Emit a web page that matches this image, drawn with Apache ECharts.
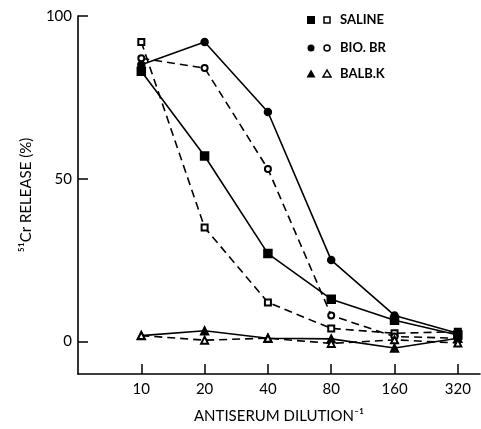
<!DOCTYPE html>
<html>
<head>
<meta charset="utf-8">
<script src="https://cdn.jsdelivr.net/npm/echarts@6/dist/echarts.min.js"></script>
<style>html,body{margin:0;padding:0;background:#fff}#c{width:481px;height:429px}</style>
</head>
<body>
<div id="c"></div>
<script>
const categories = ['10', '20', '40', '80', '160', '320'];
const yTicks = [0, 50, 100];
const salineFilled = [83, 57, 27, 13, 6.5, 2];
const salineHollow = [92, 35, 12, 4, 2.5, 3];
const bioFilled = [85, 92, 70.5, 25, 8, 2.5];
const bioHollow = [87, 84, 53, 8, 1.5, 1];
const balbFilled = [1.8, 3.3, 1, 0.8, -2, 1];
const balbHollow = [1.8, 0.4, 1, -0.6, 0.5, -0.5];
const legendNames = ['SALINE', 'BIO. BR', 'BALB.K'];

const toPts = arr => arr.map((v, i) => [i, v]);
const font = 'Lato, "DejaVu Sans", sans-serif';

function mk(name, data, symbol, size, dashed) {
  return {
    name, type: 'line', data: toPts(data),
    symbol, symbolSize: size,
    lineStyle: { color: '#000', width: 1.6, type: dashed ? [8, 5] : 'solid' },
    itemStyle: { color: '#000', borderColor: '#000', borderWidth: 1.5 },
    emphasis: { disabled: true },
    animation: false
  };
}

const chart = echarts.init(document.getElementById('c'));
const lx = 311, lx2 = 327, lt = 340, rows = [20, 48, 74];
const graphics = [];
graphics.push({ type: 'rect', shape: { x: lx - 4, y: rows[0] - 4, width: 8, height: 8 }, style: { fill: '#000' } });
graphics.push({ type: 'rect', shape: { x: lx2 - 3, y: rows[0] - 3, width: 6, height: 6 }, style: { fill: '#fff', stroke: '#000', lineWidth: 1.5 } });
graphics.push({ type: 'circle', shape: { cx: lx, cy: rows[1], r: 3.5 }, style: { fill: '#000' } });
graphics.push({ type: 'circle', shape: { cx: lx2, cy: rows[1], r: 3 }, style: { fill: '#fff', stroke: '#000', lineWidth: 1.5 } });
graphics.push({ type: 'polygon', shape: { points: [[lx, rows[2] - 4.5], [lx - 4.5, rows[2] + 3.5], [lx + 4.5, rows[2] + 3.5]] }, style: { fill: '#000' } });
graphics.push({ type: 'polygon', shape: { points: [[lx2, rows[2] - 4], [lx2 - 4, rows[2] + 3], [lx2 + 4, rows[2] + 3]] }, style: { fill: '#fff', stroke: '#000', lineWidth: 1.5 } });
legendNames.forEach((n, i) => {
  graphics.push({ type: 'text', x: lt, y: rows[i], style: { text: n, fill: '#000', font: 'bold 13px ' + font, textVerticalAlign: 'middle', textAlign: 'left' } });
});

chart.setOption({
  backgroundColor: '#fff',
  animation: false,
  grid: { left: 78, right: 1, top: 16, bottom: 51 },
  xAxis: {
    type: 'value', min: -1, max: 5.35,
    name: 'ANTISERUM DILUTION⁻¹', nameLocation: 'middle', nameGap: 35,
    nameTextStyle: { fontSize: 15, color: '#000', fontFamily: font },
    axisLine: { onZero: false, lineStyle: { color: '#000', width: 1.6 } },
    axisTick: { inside: true, length: 10, customValues: [0, 1, 2, 3, 4, 5], lineStyle: { color: '#000', width: 1.5 } },
    axisLabel: { customValues: [0, 1, 2, 3, 4, 5], formatter: v => categories[v], color: '#000', fontSize: 15, fontFamily: font, margin: 8 },
    splitLine: { show: false }
  },
  yAxis: {
    type: 'value', min: -10, max: 100,
    name: '⁵¹Cr RELEASE (%)', nameLocation: 'middle', nameGap: 44,
    nameTextStyle: { fontSize: 15, color: '#000', fontFamily: font },
    axisLine: { show: true, onZero: false, lineStyle: { color: '#000', width: 1.6 } },
    axisTick: { inside: true, length: 10, customValues: yTicks, lineStyle: { color: '#000', width: 1.5 } },
    axisLabel: { customValues: yTicks, color: '#000', fontSize: 15, fontFamily: font, margin: 6 },
    splitLine: { show: false }
  },
  graphic: graphics,
  series: [
    mk('SALINE', salineFilled, 'rect', 8, false),
    mk('SALINE (hollow)', salineHollow, 'emptyRect', 6, true),
    mk('BIO. BR', bioFilled, 'circle', 7, false),
    mk('BIO. BR (hollow)', bioHollow, 'emptyCircle', 6, true),
    mk('BALB.K', balbFilled, 'triangle', 8, false),
    mk('BALB.K (hollow)', balbHollow, 'emptyTriangle', 7, true)
  ]
});
</script>
</body>
</html>
